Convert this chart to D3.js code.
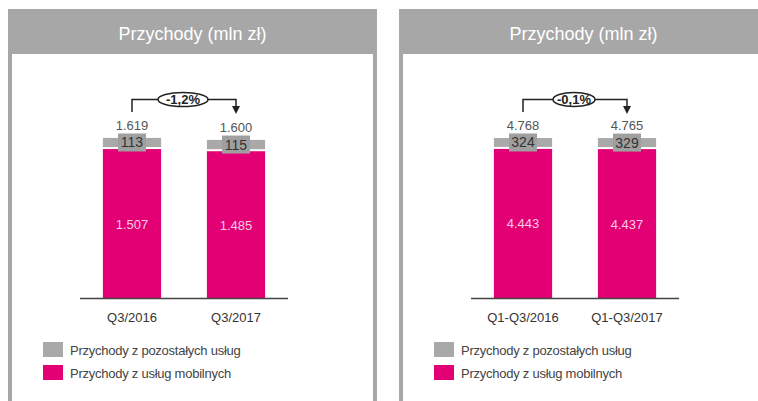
<!DOCTYPE html>
<html lang="pl">
<head>
<meta charset="UTF-8">
<title>Przychody (mln zł)</title>
<script src="https://cdn.jsdelivr.net/npm/d3@7"></script>
<style>
  body { margin: 0; background: #fff; }
  svg { display: block; font-family: "Liberation Sans", Arial, sans-serif; }
</style>
</head>
<body>
<svg id="chart" width="758" height="401"></svg>
<script>
// dane
var title = "Przychody (mln zł)";
var seriesNames = ["Przychody z pozostałych usług", "Przychody z usług mobilnych"];

var q3Categories = ["Q3/2016", "Q3/2017"];
var q3Mobile = [1507, 1485];
var q3Other = [113, 115];
var q3Total = [1619, 1600];
var q3Change = "-1,2%";

var ytdCategories = ["Q1-Q3/2016", "Q1-Q3/2017"];
var ytdMobile = [4443, 4437];
var ytdOther = [324, 329];
var ytdTotal = [4768, 4765];
var ytdChange = "-0,1%";

var pink = "#e20074";
var grey = "#a9a9a9";
var frame = "#a7a7a7";

var svg = d3.select("#chart");
var fmt = function (v) { return d3.format(",")(v).replace(/,/g, "."); };

function drawPanel(x0, width, rightBorder, cats, mobile, other, total, change, ovalRx) {
    var g = svg.append("g").attr("transform", "translate(" + x0 + ",0)");

    // ramka + nagłówek
    g.append("rect").attr("x", 0).attr("y", 9).attr("width", width).attr("height", 45).attr("fill", frame);
    g.append("rect").attr("x", 0).attr("y", 54).attr("width", 4).attr("height", 347).attr("fill", frame);
    if (rightBorder) {
        g.append("rect").attr("x", width - 4).attr("y", 54).attr("width", 4).attr("height", 347).attr("fill", frame);
    }
    g.append("text").attr("x", 184.5).attr("y", 40)
        .attr("text-anchor", "middle").attr("fill", "#fff").attr("font-size", 18)
        .text(title);

    var x = d3.scaleBand().domain(cats).range([72, 280]).paddingInner(0.44).paddingOuter(0.22);
    var y = d3.scaleLinear().domain([0, d3.max(total)]).range([298, 138]);

    var rows = cats.map(function (c, i) {
        return { cat: c, mobile: mobile[i], other: other[i], total: total[i] };
    });

    var bars = g.selectAll("g.bar").data(rows).enter().append("g").attr("class", "bar");
    var cx = function (d) { return x(d.cat) + x.bandwidth() / 2; };
    var otherMid = function (d) { return (y(d.mobile + d.other) + y(d.mobile) - 2) / 2; };

    bars.append("rect")
        .attr("x", function (d) { return x(d.cat); })
        .attr("y", function (d) { return y(d.mobile); })
        .attr("width", x.bandwidth())
        .attr("height", function (d) { return y(0) - y(d.mobile); })
        .attr("fill", pink);

    bars.append("rect")
        .attr("x", function (d) { return x(d.cat); })
        .attr("y", function (d) { return y(d.mobile + d.other); })
        .attr("width", x.bandwidth())
        .attr("height", function (d) { return y(d.mobile) - y(d.mobile + d.other) - 2; })
        .attr("fill", grey);

    // etykieta pozostałych na szarym tle
    bars.append("rect")
        .attr("x", function (d) { return cx(d) - 14; })
        .attr("y", function (d) { return otherMid(d) - 9; })
        .attr("width", 28).attr("height", 18)
        .attr("fill", "#9f9f9f");

    bars.append("text")
        .attr("x", cx)
        .attr("y", function (d) { return otherMid(d) + 5; })
        .attr("text-anchor", "middle").attr("font-size", 14).attr("fill", "#333")
        .text(function (d) { return fmt(d.other); });

    bars.append("text")
        .attr("x", cx)
        .attr("y", function (d) { return (y(d.mobile) + y(0)) / 2 + 5; })
        .attr("text-anchor", "middle").attr("font-size", 13).attr("fill", "#fbcce2")
        .text(function (d) { return fmt(d.mobile); });

    bars.append("text")
        .attr("x", cx)
        .attr("y", function (d) { return y(d.total) - 8; })
        .attr("text-anchor", "middle").attr("font-size", 13).attr("fill", "#555")
        .text(function (d) { return fmt(d.total); });

    // oś
    g.append("line").attr("x1", 72).attr("x2", 280).attr("y1", 298.5).attr("y2", 298.5)
        .attr("stroke", "#444").attr("stroke-width", 1.3);
    var ax = g.append("g").attr("transform", "translate(0,298)")
        .call(d3.axisBottom(x).tickSize(0).tickPadding(15));
    ax.select(".domain").remove();
    ax.selectAll("text").attr("font-size", 13).attr("fill", "#333")
        .attr("font-family", "Liberation Sans, Arial, sans-serif");

    // strzałka zmiany
    var xa = x(cats[0]) + x.bandwidth() / 2;
    var xb = x(cats[1]) + x.bandwidth() / 2;
    var yTop = 99.5;
    g.append("path")
        .attr("d", "M" + xa + ",112V" + yTop + "H" + xb + "V107")
        .attr("fill", "none").attr("stroke", "#222").attr("stroke-width", 1.5);
    g.append("path")
        .attr("d", "M" + (xb - 4) + ",106L" + (xb + 4) + ",106L" + xb + ",114Z")
        .attr("fill", "#222");
    var xm = (xa + xb) / 2 - 1;
    g.append("ellipse").attr("cx", xm).attr("cy", yTop).attr("rx", ovalRx).attr("ry", 7)
        .attr("fill", "#fff").attr("stroke", "#222").attr("stroke-width", 1.5);
    g.append("text").attr("x", xm).attr("y", yTop + 4.5)
        .attr("text-anchor", "middle").attr("font-size", 13).attr("font-weight", "bold").attr("fill", "#222")
        .text(change);

    // legenda
    var colors = [grey, pink];
    var leg = g.selectAll("g.leg").data(seriesNames).enter().append("g").attr("class", "leg")
        .attr("transform", function (d, i) { return "translate(35," + (342 + i * 23) + ")"; });
    leg.append("rect").attr("width", 20).attr("height", 15)
        .attr("fill", function (d, i) { return colors[i]; });
    leg.append("text").attr("x", 27).attr("y", 12.5)
        .attr("font-size", 13).attr("letter-spacing", -0.25).attr("fill", "#444")
        .text(function (d) { return d; });
}

drawPanel(8, 369, true, q3Categories, q3Mobile, q3Other, q3Total, q3Change, 25);
drawPanel(399, 359, false, ytdCategories, ytdMobile, ytdOther, ytdTotal, ytdChange, 21);
</script>
</body>
</html>
